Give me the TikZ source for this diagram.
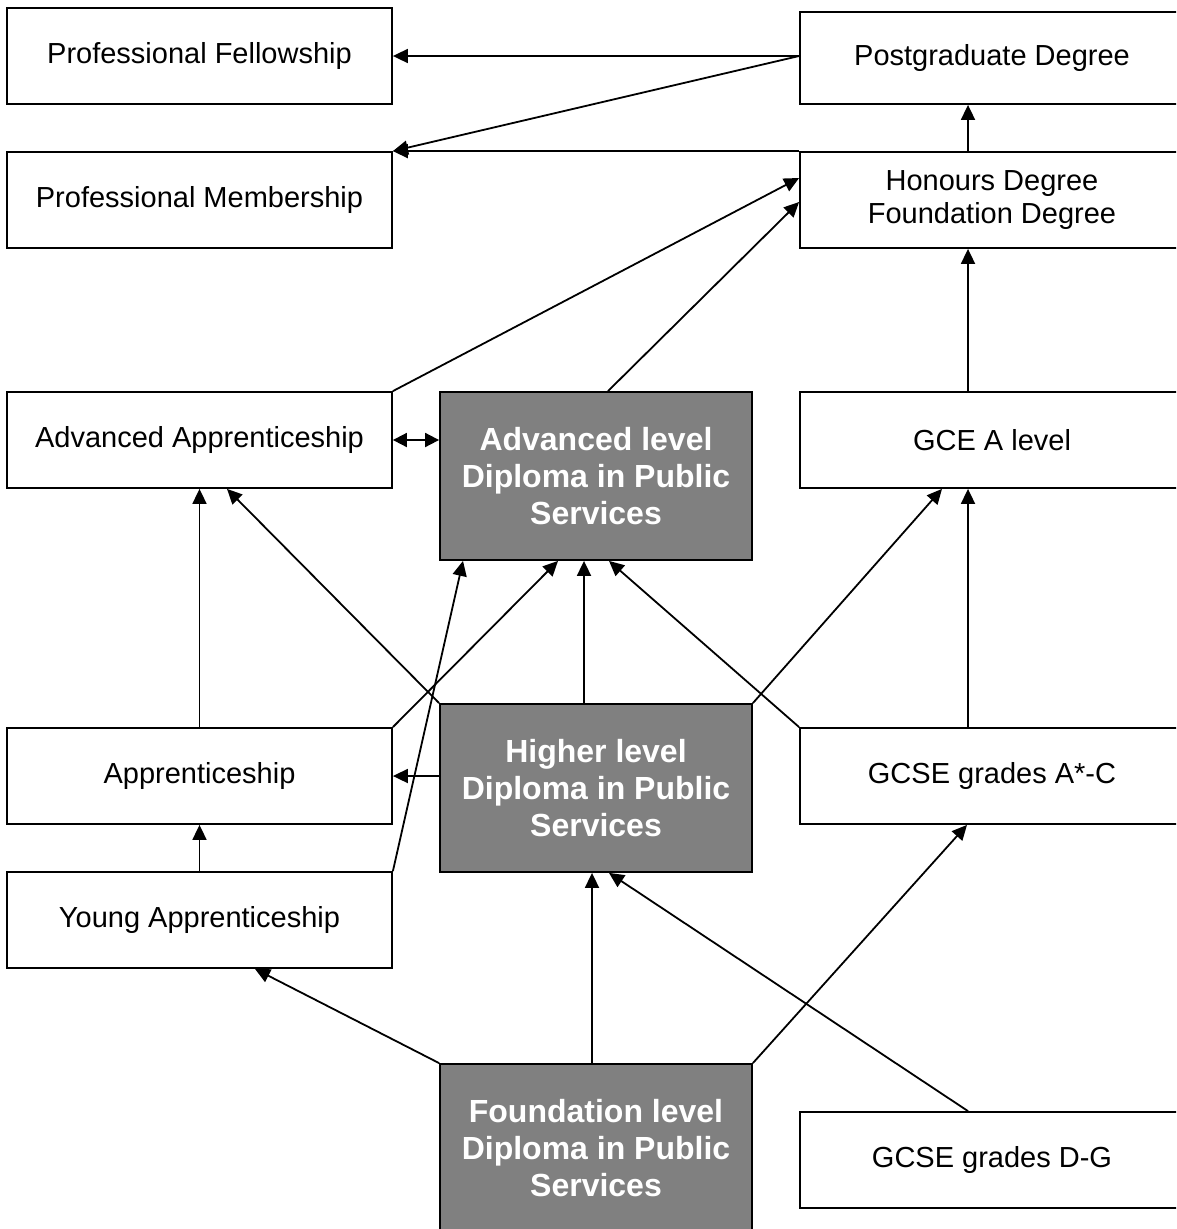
\documentclass[tikz,border=0pt]{standalone}
\usepackage{fontspec}
\setmainfont{Liberation Sans}
\usetikzlibrary{arrows.meta,calc}
\definecolor{dipgray}{HTML}{808080}
\begin{document}
\begin{tikzpicture}[x=1pt,y=-1pt,
  box/.style={draw=black, line width=1.8pt, fill=white, inner sep=0pt, align=center,
    font=\fontsize{29}{33.5}\selectfont, minimum height=96pt},
  lbox/.style={box, minimum width=385pt},
  rbox/.style={box, minimum width=384pt},
  dbox/.style={draw=black, line width=1.8pt, fill=dipgray, text=white, inner sep=0pt, align=center,
    font=\fontsize{32}{37}\selectfont\bfseries, minimum width=312pt, minimum height=168pt},
  arr/.style={line width=1.8pt, -{Triangle[length=15pt,width=14pt]}},
  darr/.style={line width=1.8pt, {Triangle[length=14pt,width=14pt]}-{Triangle[length=14pt,width=14pt]}}]
\useasboundingbox (0,0) rectangle (1176,1229);
\clip (0,0) rectangle (1176,1229);

% nodes
\node[lbox] (pf) at (199.5,56) {Professional Fellowship};
\node[rbox, minimum height=92pt] (pg) at (992,58) {Postgraduate Degree};
\node[lbox] (pm) at (199.5,200) {Professional Membership};
\node[rbox] (hd) at (992,200) {Honours Degree\\Foundation Degree};
\node[lbox] (aa) at (199.5,440) {Advanced Apprenticeship};
\node[dbox] (ad) at (596,476) {Advanced level\\Diploma in Public\\Services};
\node[rbox] (gce) at (992,440) {GCE A level};
\node[lbox] (ap) at (199.5,776) {Apprenticeship};
\node[dbox] (hl) at (596,788) {Higher level\\Diploma in Public\\Services};
\node[rbox] (gc) at (992,776) {GCSE grades A*-C};
\node[lbox] (ya) at (199.5,920) {Young Apprenticeship};
\node[dbox] (fd) at (596,1148) {Foundation level\\Diploma in Public\\Services};
\node[rbox] (gd) at (992,1160) {GCSE grades D-G};

% connectors
\coordinate (pgout) at (pg.west |- pf.east);
\draw[arr] (pgout) -- (pf.east);
\draw[arr] (pgout) -- (pm.north east);
\draw[arr] (hd.north west) -- (pm.north east);
\draw[arr] ([xshift=-24pt]hd.north) -- ([xshift=-24pt]pg.south);

\draw[arr] (aa.north east) -- ([yshift=22pt]hd.west);
\draw[arr] ([xshift=12pt]ad.north) -- ([yshift=-2pt]hd.west);
\draw[arr] ([xshift=-24pt]gce.north) -- ([xshift=-24pt]hd.south);
\draw[darr] (aa.east) -- (aa.east -| ad.west);

\draw[arr] (ap.north) -- (aa.south);
\draw[arr] (hl.north west) -- ([xshift=27.5pt]aa.south);
\draw[arr] (ap.north east) -- ([xshift=-38pt]ad.south);
\draw[arr] ([xshift=-12pt]hl.north) -- ([xshift=-12pt]ad.south);
\draw[arr] (gc.north west) -- ([xshift=13pt]ad.south);
\draw[arr] (hl.north east) -- ([xshift=-50pt]gce.south);
\draw[arr] ([xshift=-24pt]gc.north) -- ([xshift=-24pt]gce.south);

\draw[arr] (hl.west |- ap.east) -- (ap.east);
\draw[arr] (ya.north) -- (ap.south);
\draw[arr] (ya.north east) -- ([xshift=-133pt]ad.south);

\draw[arr] (fd.north west) -- ([xshift=55.5pt]ya.south);
\draw[arr] ([xshift=-4pt]fd.north) -- ([xshift=-4pt]hl.south);
\draw[arr] ([xshift=-24pt]gd.north) -- ([xshift=13pt]hl.south);
\draw[arr] (fd.north east) -- ([xshift=-25pt]gc.south);
\end{tikzpicture}
\end{document}
